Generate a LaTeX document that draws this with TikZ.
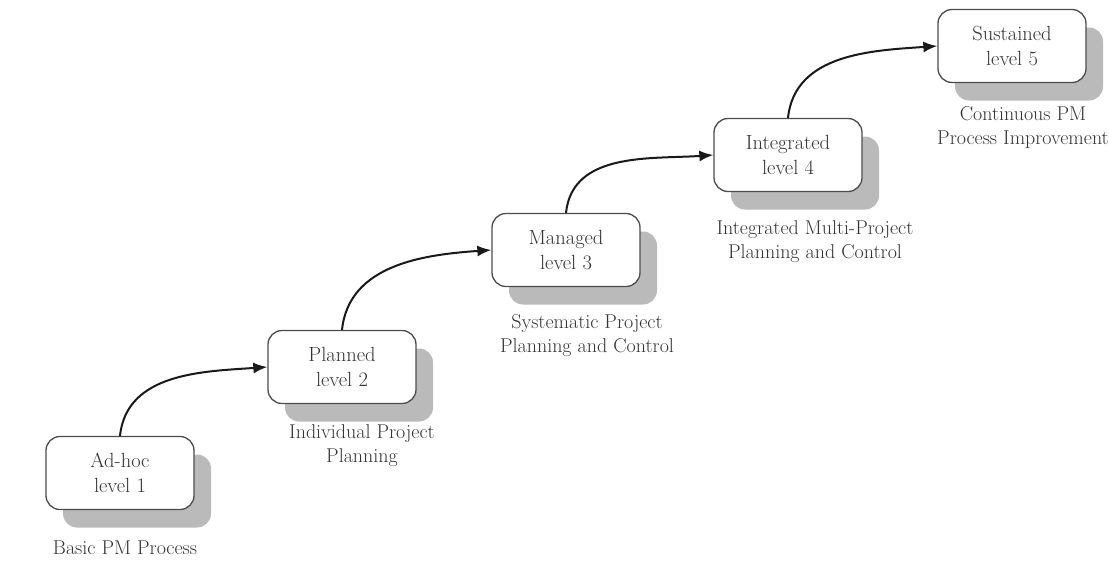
\documentclass[tikz,border=0pt]{standalone}
\usetikzlibrary{shadows,arrows.meta}
\begin{document}
\begin{tikzpicture}[x=1pt,y=-1pt,
  level/.style={draw=black!70, line width=1.3pt, rounded corners=14pt, fill=white,
    minimum width=148pt, minimum height=73pt, align=center, inner sep=0pt,
    font=\fontsize{20.5}{25}\selectfont, text=black!80,
    drop shadow={shadow xshift=17pt, shadow yshift=-18pt, fill=black!27, opacity=1}},
  caption/.style={align=center, font=\fontsize{20}{24}\selectfont, text=black!80},
  flow/.style={line width=2pt, -{Latex[length=14pt,width=11pt]}, black!90}]
\useasboundingbox (0,0) rectangle (1109,560);

\node[level] (l1) at (120,473) {Ad-hoc\\level 1};
\node[level] (l2) at (342,367) {Planned\\level 2};
\node[level] (l3) at (566,250) {Managed\\level 3};
\node[level] (l4) at (788,155) {Integrated\\level 4};
\node[level] (l5) at (1012,46) {Sustained\\level 5};

\node[caption] (c1) at (125,548) {Basic PM Process};
\node[caption] (c2) at (362,446) {Individual Project\\Planning};
\node[caption] (c3) at (587,336) {Systematic Project\\Planning and Control};
\node[caption] (c4) at (815,242) {Integrated Multi-Project\\Planning and Control};
\node[caption] (c5) at (1023,127) {Continuous PM\\Process Improvement};

\draw[flow] (l1.north) to[out=84, in=184] (l2.west);
\draw[flow] (l2.north) to[out=84, in=184] (l3.west);
\draw[flow] (l3.north) to[out=84, in=184] (l4.west);
\draw[flow] (l4.north) to[out=84, in=184] (l5.west);
\end{tikzpicture}
\end{document}
